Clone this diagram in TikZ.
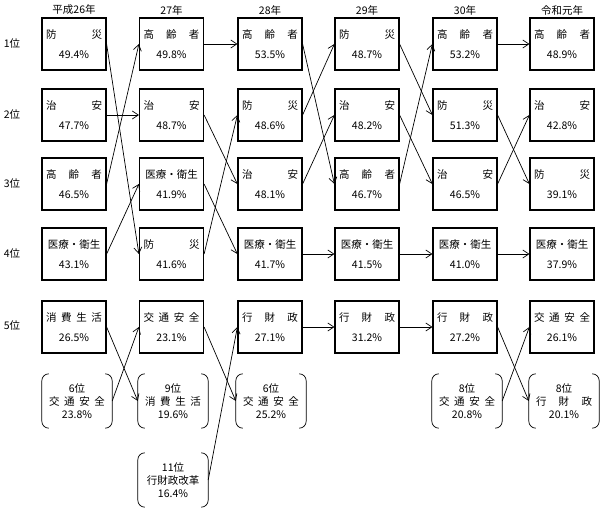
\documentclass[tikz,border=0pt]{standalone}
\usepackage{fontspec}
\setmainfont{Noto Sans CJK JP}
\usetikzlibrary{arrows.meta}
\begin{document}
\begin{tikzpicture}[x=1pt,y=-1pt,font=\fontsize{10.5}{12}\selectfont,
 box/.style={draw,line width=1.2pt,minimum width=64pt,minimum height=52pt,inner sep=0pt,align=center},
 pbox/.style={minimum width=70pt,minimum height=54pt,inner sep=0pt,align=center},
 ar/.style={-{Straight Barb[length=6pt,width=8pt]},line width=0.7pt},
 hdr/.style={}]
\useasboundingbox (0,0) rectangle (600,510);
\newcommand\lb[1]{\makebox[56pt]{#1}}
\newcommand\bx[5]{\node[box] (#1) at (#2,#3) {\lb{#4}\\[8pt] #5};}
\newcommand\pb[6]{\node[pbox] (#1) at (#2,#3) {#4\\[1pt] \lb{#5}\\[1pt] #6};
 \draw[line width=0.7pt,rounded corners=7pt] ([xshift=7pt]#1.north west)--(#1.north west)--(#1.south west)--([xshift=7pt]#1.south west);
 \draw[line width=0.7pt,rounded corners=7pt] ([xshift=-7pt]#1.north east)--(#1.north east)--(#1.south east)--([xshift=-7pt]#1.south east);}
% headers
\node (h1) at (74,10) {平成26年};
\node (h2) at (171.5,10) {27年};
\node (h3) at (270,10) {28年};
\node (h4) at (367,10) {29年};
\node (h5) at (465,10) {30年};
\node (h6) at (562,10) {令和元年};
\node (r1) at (12,44) {1位};
\node (r2) at (12,115) {2位};
\node (r3) at (12,184) {3位};
\node (r4) at (12,254) {4位};
\node (r5) at (12,326) {5位};
% col1
\bx{a1}{74}{44}{防\hfill 災}{49.4\%}
\bx{a2}{74}{115}{治\hfill 安}{47.7\%}
\bx{a3}{74}{184}{高\hfill 齢\hfill 者}{46.5\%}
\bx{a4}{74}{254}{医療・衛生}{43.1\%}
\bx{a5}{74}{327}{消\hfill 費\hfill 生\hfill 活}{26.5\%}
\pb{a6}{77}{401}{6位}{交\hfill 通\hfill 安\hfill 全}{23.8\%}
% col2
\bx{b1}{171.5}{44}{高\hfill 齢\hfill 者}{49.8\%}
\bx{b2}{171.5}{115}{治\hfill 安}{48.7\%}
\bx{b3}{171.5}{184}{医療・衛生}{41.9\%}
\bx{b4}{171.5}{254}{防\hfill 災}{41.6\%}
\bx{b5}{171.5}{327}{交\hfill 通\hfill 安\hfill 全}{23.1\%}
\pb{b6}{173}{401}{9位}{消\hfill 費\hfill 生\hfill 活}{19.6\%}
\pb{b7}{173}{480}{11位}{行財政改革}{16.4\%}
% col3
\bx{c1}{270}{44}{高\hfill 齢\hfill 者}{53.5\%}
\bx{c2}{270}{115}{防\hfill 災}{48.6\%}
\bx{c3}{270}{184}{治\hfill 安}{48.1\%}
\bx{c4}{270}{254}{医療・衛生}{41.7\%}
\bx{c5}{270}{327}{行\hfill 財\hfill 政}{27.1\%}
\pb{c6}{271}{401}{6位}{交\hfill 通\hfill 安\hfill 全}{25.2\%}
% col4
\bx{d1}{367}{44}{防\hfill 災}{48.7\%}
\bx{d2}{367}{115}{治\hfill 安}{48.2\%}
\bx{d3}{367}{184}{高\hfill 齢\hfill 者}{46.7\%}
\bx{d4}{367}{254}{医療・衛生}{41.5\%}
\bx{d5}{367}{327}{行\hfill 財\hfill 政}{31.2\%}
% col5
\bx{e1}{465}{44}{高\hfill 齢\hfill 者}{53.2\%}
\bx{e2}{465}{115}{防\hfill 災}{51.3\%}
\bx{e3}{465}{184}{治\hfill 安}{46.5\%}
\bx{e4}{465}{254}{医療・衛生}{41.0\%}
\bx{e5}{465}{327}{行\hfill 財\hfill 政}{27.2\%}
\pb{e6}{467}{401}{8位}{交\hfill 通\hfill 安\hfill 全}{20.8\%}
% col6
\bx{f1}{562}{44}{高\hfill 齢\hfill 者}{48.9\%}
\bx{f2}{562}{115}{治\hfill 安}{42.8\%}
\bx{f3}{562}{184}{防\hfill 災}{39.1\%}
\bx{f4}{562}{254}{医療・衛生}{37.9\%}
\bx{f5}{562}{327}{交\hfill 通\hfill 安\hfill 全}{26.1\%}
\pb{f6}{564}{401}{8位}{行\hfill 財\hfill 政}{20.1\%}
% arrows
\foreach \s/\t in {a1/b4,a2/b2,a3/b1,a4/b3,a5/b6,a6/b5,
 b1/c1,b2/c3,b3/c4,b4/c2,b5/c6,b7/c5,
 c1/d3,c2/d1,c3/d2,c4/d4,c5/d5,
 d1/e2,d2/e3,d3/e1,d4/e4,d5/e5,
 e1/f1,e2/f3,e3/f2,e4/f4,e5/f6,e6/f5}
 \draw[ar] (\s.east) -- (\t.west);
\end{tikzpicture}
\end{document}
